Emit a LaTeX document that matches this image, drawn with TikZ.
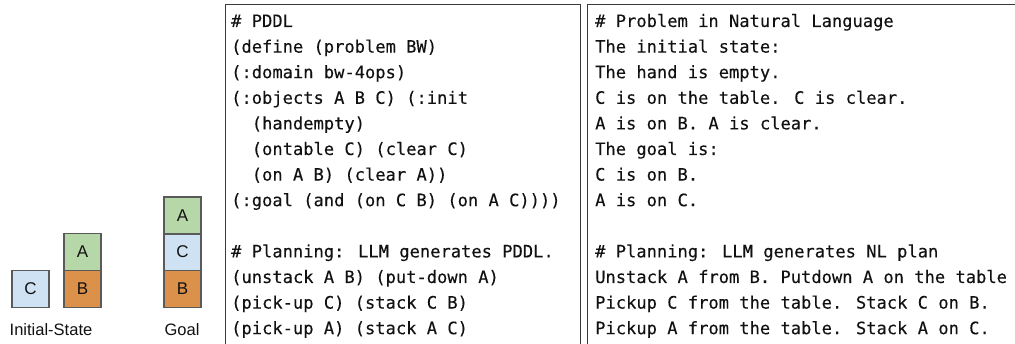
\documentclass[tikz,border=0pt]{standalone}
\usepackage{fontspec}
\setmainfont{Liberation Sans}
\newfontfamily\codefont[FakeBold=0.2]{DejaVu Sans Mono}
\definecolor{bgreen}{HTML}{B6D7A8}
\definecolor{bblue}{HTML}{CFE2F3}
\definecolor{borange}{HTML}{DB9149}
\definecolor{bline}{HTML}{5A5A5A}
\definecolor{boxline}{HTML}{3A3A3A}
\definecolor{ink}{HTML}{111111}
\tikzset{
  blk/.style={draw=bline, line width=1.3pt, minimum width=37pt, minimum height=37pt, inner sep=0pt, font=\fontsize{17}{20}\selectfont, text=ink},
  lbl/.style={anchor=base, inner sep=0pt, font=\fontsize{16.5}{20}\selectfont, text=ink},
  codeline/.style={anchor=base west, inner sep=0pt, font=\codefont\fontsize{17.1}{25.6}\selectfont, text=ink},
  panel/.style={draw=boxline, line width=1pt}
}
\begin{document}
\begin{tikzpicture}[x=1pt,y=-1pt]
\useasboundingbox (0,0) rectangle (1015,344);
\clip (0,0) rectangle (1015,344);
% blocks
\node[blk, fill=bblue] (ic) at (30.5,289) {C};
\node[blk, fill=borange] (ib) at (82.5,289) {B};
\node[blk, fill=bgreen] (ia) at (82.5,252) {A};
\node[blk, fill=borange] (gb) at (182.5,289) {B};
\node[blk, fill=bblue] (gc) at (182.5,252) {C};
\node[blk, fill=bgreen] (ga) at (182.5,215.5) {A};
\node[lbl] (linit) at (51,336) {Initial-State};
\node[lbl] (lgoal) at (182,336) {Goal};
% panels
\draw[panel] (225,5) rectangle (580,346);
\draw[panel] (587,5) rectangle (1020,346);
% PDDL text
\node[codeline] (p1) at (231,27) {\# PDDL};
\node[codeline] (p2) at (231,52.6) {(define (problem BW)};
\node[codeline] (p3) at (231,78.2) {(:domain bw-4ops)};
\node[codeline] (p4) at (231,103.8) {(:objects A B C) (:init};
\node[codeline] (p5) at (251.6,129.4) {(handempty)};
\node[codeline] (p6) at (251.6,155) {(ontable C) (clear C)};
\node[codeline] (p7) at (251.6,180.6) {(on A B) (clear A))};
\node[codeline] (p8) at (231,206.2) {(:goal (and (on C B) (on A C))))};
\node[codeline] (p9) at (231,257.4) {\# Planning: LLM generates PDDL.};
\node[codeline] (p10) at (231,283) {(unstack A B) (put-down A)};
\node[codeline] (p11) at (231,308.6) {(pick-up C) (stack C B)};
\node[codeline] (p12) at (231,334.2) {(pick-up A) (stack A C)};
% NL text
\node[codeline] (n1) at (595,27) {\# Problem in Natural Language};
\node[codeline] (n2) at (595,52.6) {The initial state:};
\node[codeline] (n3) at (595,78.2) {The hand is empty.};
\node[codeline] (n4) at (595,103.8) {C is on the table. C is clear.};
\node[codeline] (n5) at (595,129.4) {A is on B. A is clear.};
\node[codeline] (n6) at (595,155) {The goal is:};
\node[codeline] (n7) at (595,180.6) {C is on B.};
\node[codeline] (n8) at (595,206.2) {A is on C.};
\node[codeline] (n9) at (595,257.4) {\# Planning: LLM generates NL plan};
\node[codeline] (n10) at (595,283) {Unstack A from B. Putdown A on the table};
\node[codeline] (n11) at (595,308.6) {Pickup C from the table. Stack C on B.};
\node[codeline] (n12) at (595,334.2) {Pickup A from the table. Stack A on C.};
\end{tikzpicture}
\end{document}
